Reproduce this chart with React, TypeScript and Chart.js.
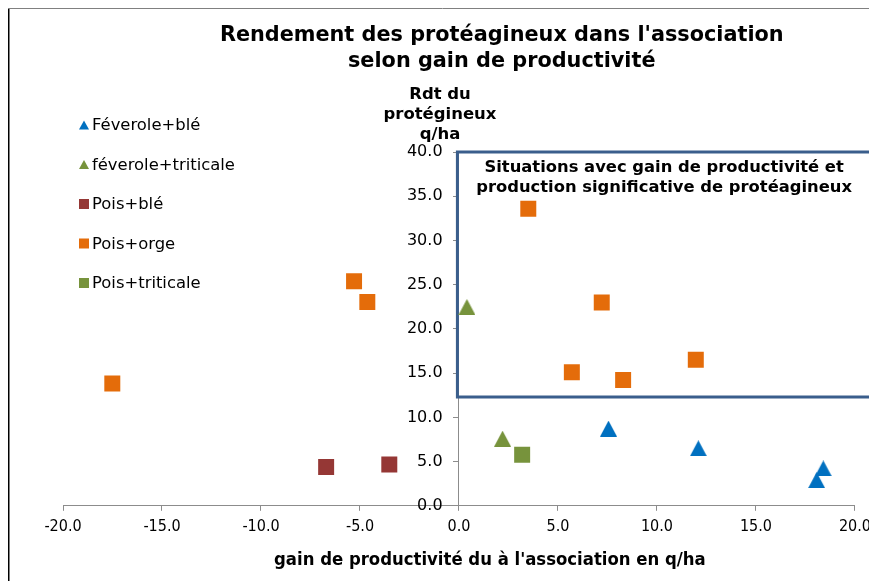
import React, { useEffect, useRef } from "react";
import { Chart, registerables } from "chart.js";

Chart.register(...registerables);

const titleLines = ["Rendement des protéagineux dans l'association", "selon gain de productivité"];
const yTitleLines = ["Rdt du", "protégineux", "q/ha"];
const xTitle = "gain de productivité du à l'association en q/ha";
const boxLines = ["Situations avec gain de productivité et", "production significative de protéagineux"];

const seriesNames = ["Féverole+blé", "féverole+triticale", "Pois+blé", "Pois+orge", "Pois+triticale"];
const seriesColors = ["#0070C0", "#77933C", "#953735", "#E46C0A", "#77933C"];
const seriesShapes = ["triangle", "triangle", "square", "square", "square"];

const feveroleBle = [
  { x: 7.55, y: 8.73 },
  { x: 12.09, y: 6.5 },
  { x: 18.4, y: 4.23 },
  { x: 18.06, y: 2.9 },
];
const feveroleTriticale = [
  { x: 0.4, y: 22.48 },
  { x: 2.2, y: 7.59 },
];
const poisBle = [
  { x: -6.71, y: 4.38 },
  { x: -3.52, y: 4.68 },
];
const poisOrge = [
  { x: 3.5, y: 33.58 },
  { x: 7.21, y: 22.98 },
  { x: 5.7, y: 15.09 },
  { x: 8.29, y: 14.23 },
  { x: 11.96, y: 16.5 },
  { x: -5.3, y: 25.4 },
  { x: -4.63, y: 23.05 },
  { x: -17.51, y: 13.84 },
];
const poisTriticale = [{ x: 3.19, y: 5.77 }];

const seriesData = [feveroleBle, feveroleTriticale, poisBle, poisOrge, poisTriticale];

// highlighted region (in data units)
const boxXMin = -0.08;
const boxXMax = 20.8;
const boxYMin = 12.3;
const boxYMax = 40;

const xMin = -20;
const xMax = 20;
const yMin = 0;
const yMax = 40;
const tickStep = 5;

function makeTriangle(color: string, w: number, h: number) {
  const c = document.createElement("canvas");
  c.width = w;
  c.height = h;
  const g = c.getContext("2d")!;
  g.fillStyle = color;
  g.beginPath();
  g.moveTo(0, h);
  g.lineTo(w, h);
  g.lineTo(w / 2, 0);
  g.closePath();
  g.fill();
  return c;
}

function fitSize(ctx: CanvasRenderingContext2D, text: string, weight: string, family: string, target: number) {
  ctx.font = `${weight} 100px ${family}`;
  const w = ctx.measureText(text).width;
  return (100 * target) / w;
}

const SANS = "'DejaVu Sans', Verdana, sans-serif";
const COND = "'DejaVu Sans Condensed', 'DejaVu Sans', sans-serif";

export default function App() {
  const ref = useRef<HTMLCanvasElement | null>(null);

  useEffect(() => {
    const canvas = ref.current!;
    const datasets = seriesNames.map((name, i) => ({
      label: name,
      data: seriesData[i],
      pointStyle: seriesShapes[i] === "triangle" ? makeTriangle(seriesColors[i], 17, 16) : "rect",
      pointRadius: seriesShapes[i] === "triangle" ? 9 : 11.3,
      pointBorderWidth: 0,
      backgroundColor: seriesColors[i],
      borderColor: seriesColors[i],
      showLine: false,
    }));

    const overlay = {
      id: "overlay",
      beforeDatasetsDraw(chart: any) {
        const ctx = chart.ctx as CanvasRenderingContext2D;
        const xs = chart.scales.x;
        const ys = chart.scales.y;
        const l = xs.getPixelForValue(boxXMin);
        const r = xs.getPixelForValue(boxXMax);
        const t = ys.getPixelForValue(boxYMax);
        const b = ys.getPixelForValue(boxYMin);
        ctx.save();
        ctx.strokeStyle = "#3A5E8C";
        ctx.lineWidth = 3;
        ctx.strokeRect(l, t, r - l, b - t);
        ctx.restore();
      },
      afterDraw(chart: any) {
        const ctx = chart.ctx as CanvasRenderingContext2D;
        const xs = chart.scales.x;
        const ys = chart.scales.y;
        const ca = chart.chartArea;
        ctx.save();
        ctx.fillStyle = "#000";
        ctx.textBaseline = "middle";
        ctx.textAlign = "center";

        // frame
        ctx.strokeStyle = "#000";
        ctx.lineWidth = 1.5;
        ctx.beginPath();
        ctx.moveTo(0.75, 0);
        ctx.lineTo(0.75, chart.height);
        ctx.stroke();
        ctx.strokeStyle = "#808080";
        ctx.lineWidth = 1;
        ctx.beginPath();
        ctx.moveTo(0, 0.5);
        ctx.lineTo(chart.width, 0.5);
        ctx.stroke();

        // title
        const tSize = fitSize(ctx, titleLines[0], "bold", SANS, 564);
        ctx.font = `bold ${tSize}px ${SANS}`;
        const tcx = ca.left + (ca.right - ca.left) * 0.554;
        ctx.fillText(titleLines[0], tcx, 28);
        ctx.fillText(titleLines[1], tcx, 54);

        // y axis title
        const x0 = xs.getPixelForValue(0);
        const ySize = fitSize(ctx, yTitleLines[1], "bold", SANS, 113);
        ctx.font = `bold ${ySize}px ${SANS}`;
        const ycx = x0 - 19;
        yTitleLines.forEach((s, i) => ctx.fillText(s, ycx, ca.top - 57 + i * 20));

        // x axis title
        const xSize = fitSize(ctx, xTitle, "bold", COND, 432);
        ctx.font = `bold ${xSize}px ${COND}`;
        ctx.fillText(xTitle, ca.left + (ca.right - ca.left) * 0.539, ca.bottom + 54);

        // box text
        const bSize = fitSize(ctx, boxLines[1], "bold", SANS, 376);
        ctx.font = `bold ${bSize}px ${SANS}`;
        const bcx = (xs.getPixelForValue(boxXMin) + xs.getPixelForValue(boxXMax)) / 2;
        const bt = ys.getPixelForValue(boxYMax);
        ctx.fillText(boxLines[0], bcx, bt + 16);
        ctx.fillText(boxLines[1], bcx, bt + 36);

        // legend
        const lSize = fitSize(ctx, seriesNames[1], "normal", SANS, 143);
        ctx.font = `${lSize}px ${SANS}`;
        ctx.textAlign = "left";
        const lx = ca.left + 21;
        seriesNames.forEach((name, i) => {
          const cy = ca.top - 27 + i * 39.5;
          ctx.fillStyle = seriesColors[i];
          if (seriesShapes[i] === "triangle") {
            ctx.beginPath();
            ctx.moveTo(lx - 5, cy + 4.5);
            ctx.lineTo(lx + 5, cy + 4.5);
            ctx.lineTo(lx, cy - 4.5);
            ctx.closePath();
            ctx.fill();
          } else {
            ctx.fillRect(lx - 5, cy - 5, 10, 10);
          }
          ctx.fillStyle = "#000";
          ctx.fillText(name, lx + 8, cy + 1);
        });
        ctx.restore();
      },
    };

    const numLabel = (v: any) => Number(v).toFixed(1);

    const chart = new Chart(canvas, {
      type: "scatter",
      data: { datasets: datasets as any },
      options: {
        animation: false,
        responsive: false,
        layout: { padding: { left: 55, right: 21, top: 144, bottom: 39 } },
        plugins: { legend: { display: false }, title: { display: false }, tooltip: { enabled: false } },
        scales: {
          x: {
            type: "linear",
            min: xMin,
            max: xMax,
            position: "bottom",
            ticks: {
              stepSize: tickStep,
              color: "#000",
              font: { family: COND, size: 16 },
              padding: 6,
              maxRotation: 0,
              callback: numLabel,
            },
            grid: { drawOnChartArea: false, tickLength: 5, color: "#8C8C8C" },
            border: { color: "#8C8C8C", width: 1 },
          },
          y: {
            type: "linear",
            min: yMin,
            max: yMax,
            position: { x: 0 } as any,
            ticks: { stepSize: tickStep, display: false },
            grid: { drawOnChartArea: false, tickLength: 5, color: "#8C8C8C" },
            border: { color: "#8C8C8C", width: 1 },
          },
          yLabels: {
            type: "linear",
            axis: "y",
            min: yMin,
            max: yMax,
            position: { x: -0.83 } as any,
            ticks: {
              stepSize: tickStep,
              color: "#000",
              font: { family: SANS, size: 16 },
              callback: numLabel,
            },
            grid: { display: false },
            border: { display: false },
          },
        } as any,
      },
      plugins: [overlay],
    });
    return () => chart.destroy();
  }, []);

  return (
    <div style={{ width: 869, height: 573, overflow: "hidden" }}>
      <canvas ref={ref} width={869} height={573} style={{ display: "block" }} />
    </div>
  );
}
